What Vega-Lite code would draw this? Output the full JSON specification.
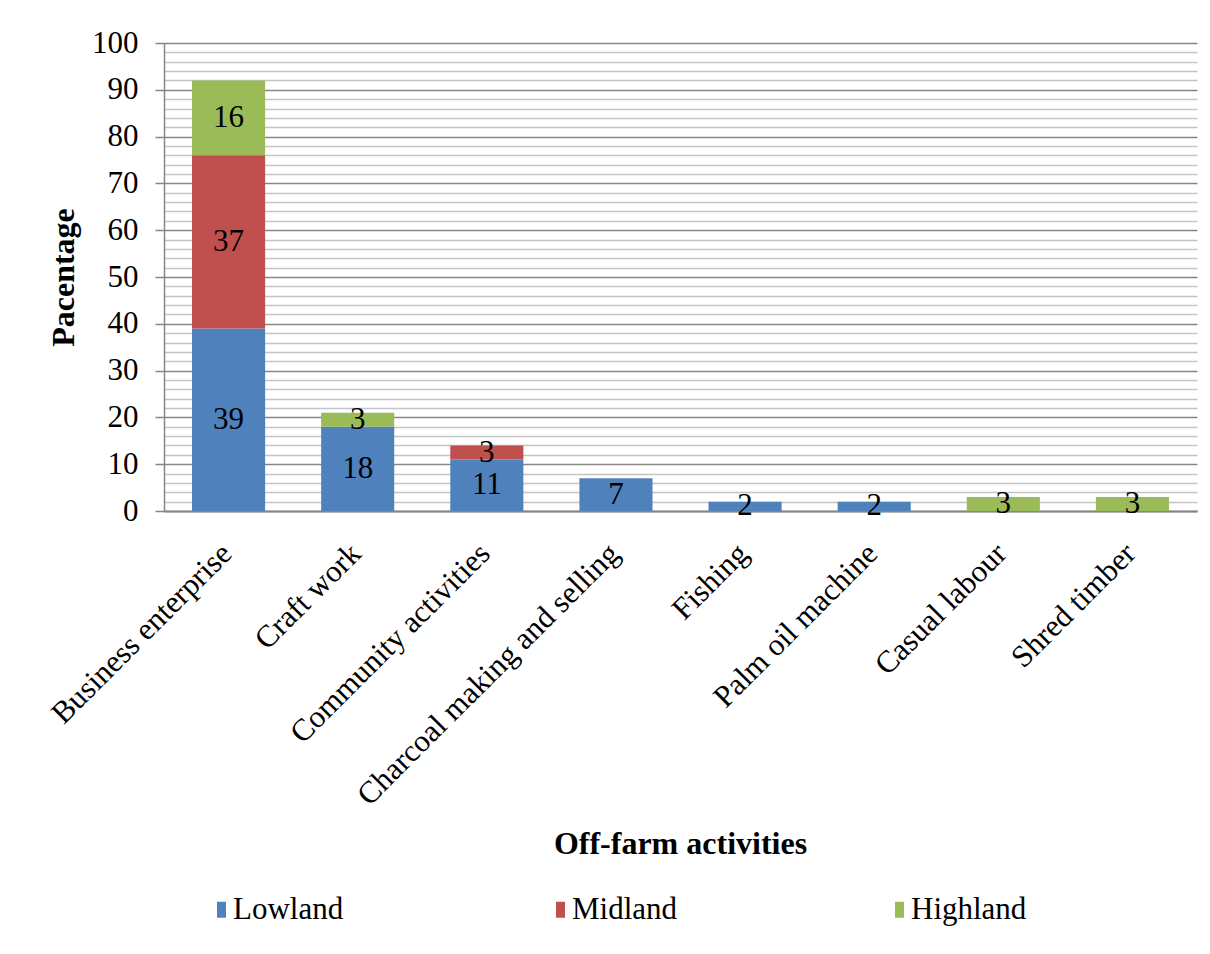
{
  "$schema": "https://vega.github.io/schema/vega-lite/v6.json",
  "width": 1033,
  "height": 468,
  "autosize": {"type": "none"},
  "padding": {"left": 164, "top": 43, "right": 13, "bottom": 443},
  "background": "white",
  "config": {"font": "Liberation Serif", "view": {"stroke": null}},
  "data": {
    "values": [
      {"activity": "Business enterprise", "region": "Lowland", "o": 1, "value": 39},
      {"activity": "Business enterprise", "region": "Midland", "o": 2, "value": 37},
      {"activity": "Business enterprise", "region": "Highland", "o": 3, "value": 16},
      {"activity": "Craft work", "region": "Lowland", "o": 1, "value": 18},
      {"activity": "Craft work", "region": "Highland", "o": 3, "value": 3},
      {"activity": "Community activities", "region": "Lowland", "o": 1, "value": 11},
      {"activity": "Community activities", "region": "Midland", "o": 2, "value": 3},
      {"activity": "Charcoal making and selling", "region": "Lowland", "o": 1, "value": 7},
      {"activity": "Fishing", "region": "Lowland", "o": 1, "value": 2},
      {"activity": "Palm oil machine", "region": "Lowland", "o": 1, "value": 2},
      {"activity": "Casual labour", "region": "Highland", "o": 3, "value": 3},
      {"activity": "Shred timber", "region": "Highland", "o": 3, "value": 3}
    ]
  },
  "encoding": {
    "x": {
      "field": "activity",
      "type": "nominal",
      "sort": null,
      "scale": {"paddingInner": 0.434, "paddingOuter": 0.217},
      "axis": {
        "title": "Off-farm activities",
        "titleFontSize": 32,
        "titleFontWeight": "bold",
        "titleColor": "black",
        "titleX": 516,
        "titleY": 332,
        "titleBaseline": "middle",
        "labelAngle": -45,
        "labelFontSize": 31,
        "labelColor": "black",
        "labelLimit": 0,
        "labelPadding": 27,
        "labelOffset": -12,
        "ticks": false,
        "domainColor": "#868686",
        "domainWidth": 2,
        "grid": false
      }
    },
    "order": {"field": "o", "type": "quantitative"}
  },
  "layer": [
    {
      "mark": {"type": "bar"},
      "encoding": {
        "y": {
          "field": "value",
          "type": "quantitative",
          "stack": "zero",
          "scale": {"domain": [0, 100], "nice": false},
          "axis": {
            "values": [0,2,4,6,8,10,12,14,16,18,20,22,24,26,28,30,32,34,36,38,40,42,44,46,48,50,52,54,56,58,60,62,64,66,68,70,72,74,76,78,80,82,84,86,88,90,92,94,96,98,100],
            "tickCount": 200,
            "format": "d",
            "labelOverlap": false,
            "labelBound": false,
            "labelExpr": "datum.value % 10 === 0 ? datum.label : ''",
            "tickOpacity": {"condition": {"test": "datum.value % 10 === 0", "value": 1}, "value": 0},
            "gridColor": {"condition": {"test": "datum.value % 10 === 0", "value": "#868686"}, "value": "#C4C4C4"},
            "gridWidth": 1.5,
            "tickSize": 9,
            "tickWidth": 1.5,
            "tickColor": "#868686",
            "domainColor": "#868686",
            "domainWidth": 1.5,
            "labelFont": "Liberation Serif",
            "labelFontSize": 31,
            "labelColor": "black",
            "labelPadding": 17,
            "title": "Pacentage",
            "titleFontSize": 32,
            "titleFontWeight": "bold",
            "titleColor": "black",
            "titleX": -101,
            "titleY": 234,
            "titleBaseline": "middle",
            "titleAngle": -90
          }
        },
        "color": {
          "field": "region",
          "type": "nominal",
          "sort": ["Lowland", "Midland", "Highland"],
          "scale": {"domain": ["Lowland", "Midland", "Highland"], "range": ["#4F81BD", "#C0504D", "#9BBB59"]},
          "legend": {
            "title": null,
            "orient": "none",
            "legendX": 42,
            "legendY": 851,
            "direction": "horizontal",
            "columns": 3,
            "gridAlign": "all",
            "columnPadding": 196,
            "symbolType": "M-0.56,-1H0.56V1H-0.56Z",
            "symbolSize": 256,
            "symbolStrokeWidth": 0,
            "symbolOpacity": 1,
            "labelFontSize": 31,
            "labelColor": "black",
            "labelOffset": -4,
            "labelLimit": 0
          }
        }
      }
    },
    {
      "mark": {"type": "text", "fontSize": 31, "color": "black", "baseline": "middle"},
      "encoding": {
        "y": {"field": "value", "type": "quantitative", "stack": "zero", "bandPosition": 0.5},
        "detail": {"field": "region"},
        "text": {"field": "value", "type": "quantitative"}
      }
    }
  ]
}
